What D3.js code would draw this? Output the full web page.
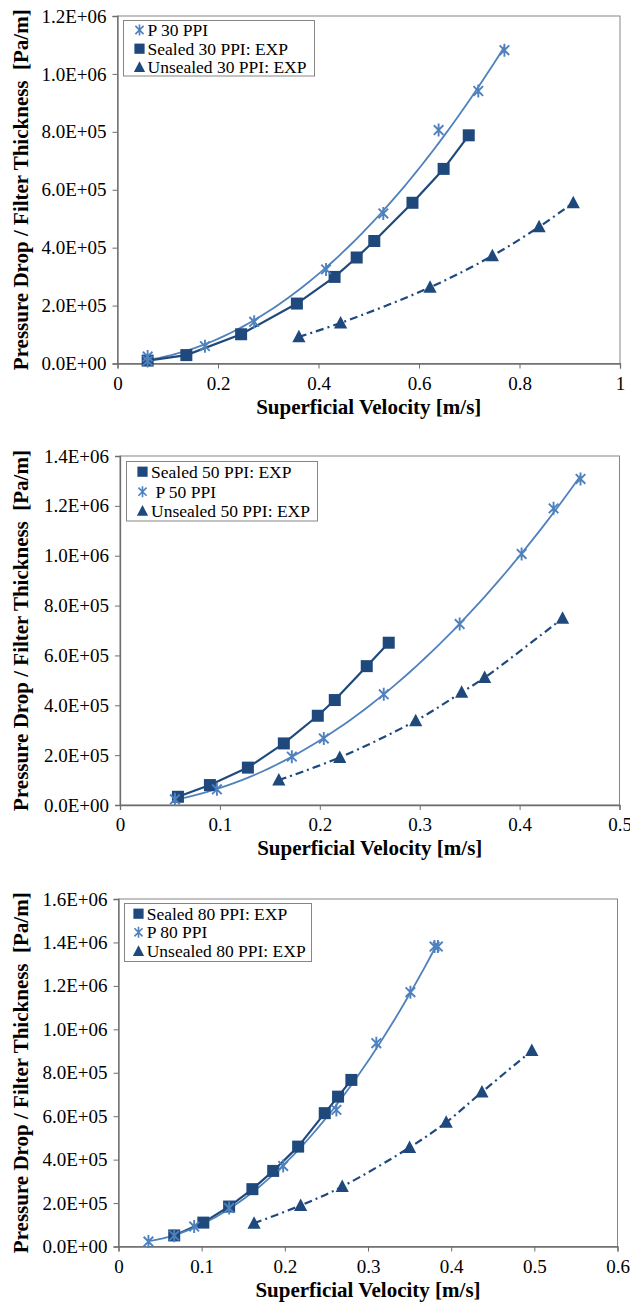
<!DOCTYPE html>
<html>
<head>
<meta charset="utf-8">
<script src="https://cdn.jsdelivr.net/npm/d3@7"></script>
<style>
  body { margin: 0; background: #fff; }
  svg { display: block; }
  text { font-family: "Liberation Serif", "Times New Roman", serif; fill: #000; }
</style>
</head>
<body>
<div id="chart"></div>
<script>
// ---- data: [superficial velocity m/s, pressure drop / thickness Pa/m] ----
var p30 = [[0.060, 24000], [0.060, 9000], [0.174, 60000], [0.272, 144000], [0.415, 325000],
  [0.529, 518000], [0.639, 806000], [0.718, 941000], [0.770, 1082000]];
var sealed30 = [[0.060, 10000], [0.137, 29000], [0.246, 101000], [0.357, 207000], [0.432, 299000],
  [0.476, 366000], [0.511, 423000], [0.587, 555000], [0.649, 672000], [0.699, 788000]];
var unsealed30 = [[0.361, 92000], [0.444, 140000], [0.622, 263000], [0.746, 372000],
  [0.839, 472000], [0.907, 555000]];

var sealed50 = [[0.058, 33000], [0.090, 80000], [0.128, 150000], [0.164, 247000], [0.198, 358000],
  [0.215, 421000], [0.247, 557000], [0.269, 651000]];
var p50 = [[0.055, 23000], [0.097, 63000], [0.172, 194000], [0.204, 267000], [0.264, 444000],
  [0.340, 726000], [0.402, 1007000], [0.434, 1190000], [0.461, 1308000]];
var unsealed50 = [[0.159, 100000], [0.220, 191000], [0.296, 338000], [0.342, 452000],
  [0.365, 511000], [0.443, 749000]];

var sealed80 = [[0.067, 51000], [0.102, 110000], [0.133, 184000], [0.161, 264000], [0.186, 348000],
  [0.216, 460000], [0.248, 614000], [0.264, 690000], [0.280, 767000]];
var p80 = [[0.036, 23000], [0.067, 50000], [0.091, 92000], [0.133, 177000], [0.198, 371000],
  [0.262, 629000], [0.310, 936000], [0.351, 1171000], [0.380, 1381000], [0.384, 1381000]];
var unsealed80 = [[0.163, 107000], [0.219, 189000], [0.269, 276000], [0.350, 456000],
  [0.394, 572000], [0.437, 711000], [0.497, 902000]];

var xTitle = "Superficial Velocity [m/s]";
var yTitle = "Pressure Drop / Filter Thickness  [Pa/m]";

// ---- styles ----
var FONT = "'Liberation Serif', 'Times New Roman', serif";
var lightBlue = "#4f81bd";
var darkBlue = "#1f497d";
// line: "fit" = 2nd order trendline, "straight" = point to point, "smooth" = smoothed
var styles = {
  p: {color: lightBlue, marker: "star", width: 1.8, dash: null, line: "fit"},
  sealed: {color: darkBlue, marker: "square", width: 2.2, dash: null, line: "straight"},
  unsealed: {color: darkBlue, marker: "triangle", width: 2.2, dash: "8,4,2,4", line: "smooth"}
};

var panels = [
  {
    left: 117.5, right: 620, top: 16, bottom: 363.5,
    xMax: 1, xStep: 0.2, yMax: 1200000, yStep: 200000,
    series: [
      {kind: "p", name: "P 30 PPI", data: p30},
      {kind: "sealed", name: "Sealed 30 PPI: EXP", data: sealed30},
      {kind: "unsealed", name: "Unsealed 30 PPI: EXP", data: unsealed30}
    ],
    legend: {x: 123.5, y: 20.5, w: 191, h: 55.5, markX: 139.5, textX: 147.5, rows: [30, 48.7, 67.3]}
  },
  {
    left: 120, right: 619.5, top: 456, bottom: 805,
    xMax: 0.5, xStep: 0.1, yMax: 1400000, yStep: 200000,
    series: [
      {kind: "sealed", name: "Sealed 50 PPI: EXP", data: sealed50},
      {kind: "p", name: " P 50 PPI", data: p50},
      {kind: "unsealed", name: "Unsealed 50 PPI: EXP", data: unsealed50}
    ],
    legend: {x: 126.5, y: 461.5, w: 191, h: 59.5, markX: 142.5, textX: 151, rows: [471.7, 491.7, 511]}
  },
  {
    left: 118.5, right: 617.5, top: 899, bottom: 1246.5,
    xMax: 0.6, xStep: 0.1, yMax: 1600000, yStep: 200000,
    series: [
      {kind: "sealed", name: "Sealed 80 PPI: EXP", data: sealed80},
      {kind: "p", name: "P 80 PPI", data: p80},
      {kind: "unsealed", name: "Unsealed 80 PPI: EXP", data: unsealed80}
    ],
    legend: {x: 124.5, y: 903.5, w: 187, h: 58, markX: 138.5, textX: 146.7, rows: [913.7, 932.3, 951.3]}
  }
];

function sci(v) {
  if (v === 0) return "0.0E+00";
  var e = Math.floor(Math.log10(v) + 1e-9);
  var m = v / Math.pow(10, e);
  return m.toFixed(1) + "E+" + (e < 10 ? "0" : "") + e;
}

// least squares 2nd order polynomial (Excel style trendline)
function quadFit(pts) {
  var S = [0, 0, 0, 0, 0], T = [0, 0, 0];
  pts.forEach(function (p) {
    for (var k = 0; k < 5; k++) S[k] += Math.pow(p[0], k);
    for (var k2 = 0; k2 < 3; k2++) T[k2] += p[1] * Math.pow(p[0], k2);
  });
  var A = [[S[0], S[1], S[2], T[0]], [S[1], S[2], S[3], T[1]], [S[2], S[3], S[4], T[2]]];
  for (var i = 0; i < 3; i++) {
    for (var j = i + 1; j < 3; j++) {
      var f = A[j][i] / A[i][i];
      for (var c = i; c < 4; c++) A[j][c] -= f * A[i][c];
    }
  }
  var coef = [0, 0, 0];
  for (var r = 2; r >= 0; r--) {
    var s = A[r][3];
    for (var q = r + 1; q < 3; q++) s -= A[r][q] * coef[q];
    coef[r] = s / A[r][r];
  }
  return function (v) { return coef[0] + coef[1] * v + coef[2] * v * v; };
}

function drawMarker(g, kind, color) {
  if (kind === "square") {
    g.append("rect").attr("x", -6).attr("y", -6).attr("width", 12).attr("height", 12)
      .attr("fill", color);
  } else if (kind === "triangle") {
    g.append("path").attr("d", "M0,-7L6.6,5.5L-6.6,5.5Z").attr("fill", color);
  } else {
    var r = 6.5, d = 4.8;
    g.append("path")
      .attr("d", "M" + (-d) + "," + (-d) + "L" + d + "," + d + "M" + (-d) + "," + d + "L" + d + "," + (-d) +
        "M0," + (-r) + "L0," + r)
      .attr("fill", "none").attr("stroke", color).attr("stroke-width", 1.9);
  }
}

var svg = d3.select("#chart").append("svg").attr("width", 630).attr("height", 1303);

panels.forEach(function (pn) {
  var x = d3.scaleLinear().domain([0, pn.xMax]).range([pn.left, pn.right]);
  var y = d3.scaleLinear().domain([0, pn.yMax]).range([pn.bottom, pn.top]);
  var g = svg.append("g");

  // plot frame
  g.append("rect")
    .attr("x", pn.left).attr("y", pn.top)
    .attr("width", pn.right - pn.left).attr("height", pn.bottom - pn.top)
    .attr("fill", "none").attr("stroke", "#868686").attr("stroke-width", 1);

  // axes
  var yAxis = d3.axisLeft(y)
    .tickValues(d3.range(0, pn.yMax + 1, pn.yStep))
    .tickFormat(sci).tickSizeOuter(0).tickSize(5).tickPadding(6);
  var xAxis = d3.axisBottom(x)
    .tickValues(d3.range(0, pn.xMax + 1e-9, pn.xStep))
    .tickFormat(d3.format("~g")).tickSizeOuter(0).tickSize(5).tickPadding(8);

  var ga = g.append("g").attr("transform", "translate(" + pn.left + ",0)").call(yAxis);
  var gb = g.append("g").attr("transform", "translate(0," + pn.bottom + ")").call(xAxis);
  [ga, gb].forEach(function (a) {
    a.attr("font-family", FONT).attr("font-size", 19);
    a.select(".domain").attr("stroke", "#6e6e6e").attr("stroke-width", 1.3);
    a.selectAll(".tick line").attr("stroke", "#6e6e6e");
    a.selectAll(".tick text").attr("fill", "#000")
      .style("font-family", FONT).style("font-size", "19px");
  });

  // axis titles
  g.append("text")
    .attr("x", (pn.left + pn.right) / 2).attr("y", pn.bottom + 50)
    .attr("text-anchor", "middle").style("font-size", "21px").attr("font-weight", "bold")
    .style("font-family", FONT)
    .text(xTitle);
  g.append("text")
    .attr("transform", "translate(28," + (pn.top + pn.bottom) / 2 + ") rotate(-90)")
    .attr("text-anchor", "middle").style("font-size", "21px").attr("font-weight", "bold")
    .style("font-family", FONT).style("white-space", "pre")
    .text(yTitle);

  // lines
  var line = d3.line()
    .x(function (d) { return x(d[0]); })
    .y(function (d) { return y(d[1]); });

  pn.series.forEach(function (s) {
    var st = styles[s.kind];
    var pts = s.data;
    if (st.line === "fit") {
      var fn = quadFit(s.data);
      var ext = d3.extent(s.data, function (d) { return d[0]; });
      pts = d3.range(0, 61).map(function (i) {
        var v = ext[0] + (ext[1] - ext[0]) * i / 60;
        return [v, fn(v)];
      });
      line.curve(d3.curveLinear);
    } else if (st.line === "smooth") {
      line.curve(d3.curveCatmullRom.alpha(0.5));
    } else {
      line.curve(d3.curveLinear);
    }
    g.append("path").datum(pts)
      .attr("d", line)
      .attr("fill", "none")
      .attr("stroke", st.color)
      .attr("stroke-width", st.width)
      .attr("stroke-linejoin", "round")
      .attr("stroke-dasharray", st.dash);
  });

  // markers, asterisks on top
  var order = pn.series.slice().sort(function (a, b) {
    return (a.kind === "p" ? 1 : 0) - (b.kind === "p" ? 1 : 0);
  });
  order.forEach(function (s) {
    var st = styles[s.kind];
    g.append("g").selectAll("g").data(s.data).enter().append("g")
      .attr("transform", function (d) { return "translate(" + x(d[0]) + "," + y(d[1]) + ")"; })
      .each(function () { drawMarker(d3.select(this), st.marker, st.color); });
  });

  // legend
  var lg = pn.legend;
  g.append("rect").attr("x", lg.x).attr("y", lg.y).attr("width", lg.w).attr("height", lg.h)
    .attr("fill", "#fff").attr("stroke", "#868686").attr("stroke-width", 1);
  pn.series.forEach(function (s, i) {
    var st = styles[s.kind];
    var mg = g.append("g").attr("transform", "translate(" + lg.markX + "," + lg.rows[i] + ") scale(0.85)");
    drawMarker(mg, st.marker, st.color);
    g.append("text").attr("x", lg.textX).attr("y", lg.rows[i] + 6)
      .style("font-size", "17.5px").style("font-family", FONT).style("white-space", "pre")
      .text(s.name);
  });
});
</script>
</body>
</html>
